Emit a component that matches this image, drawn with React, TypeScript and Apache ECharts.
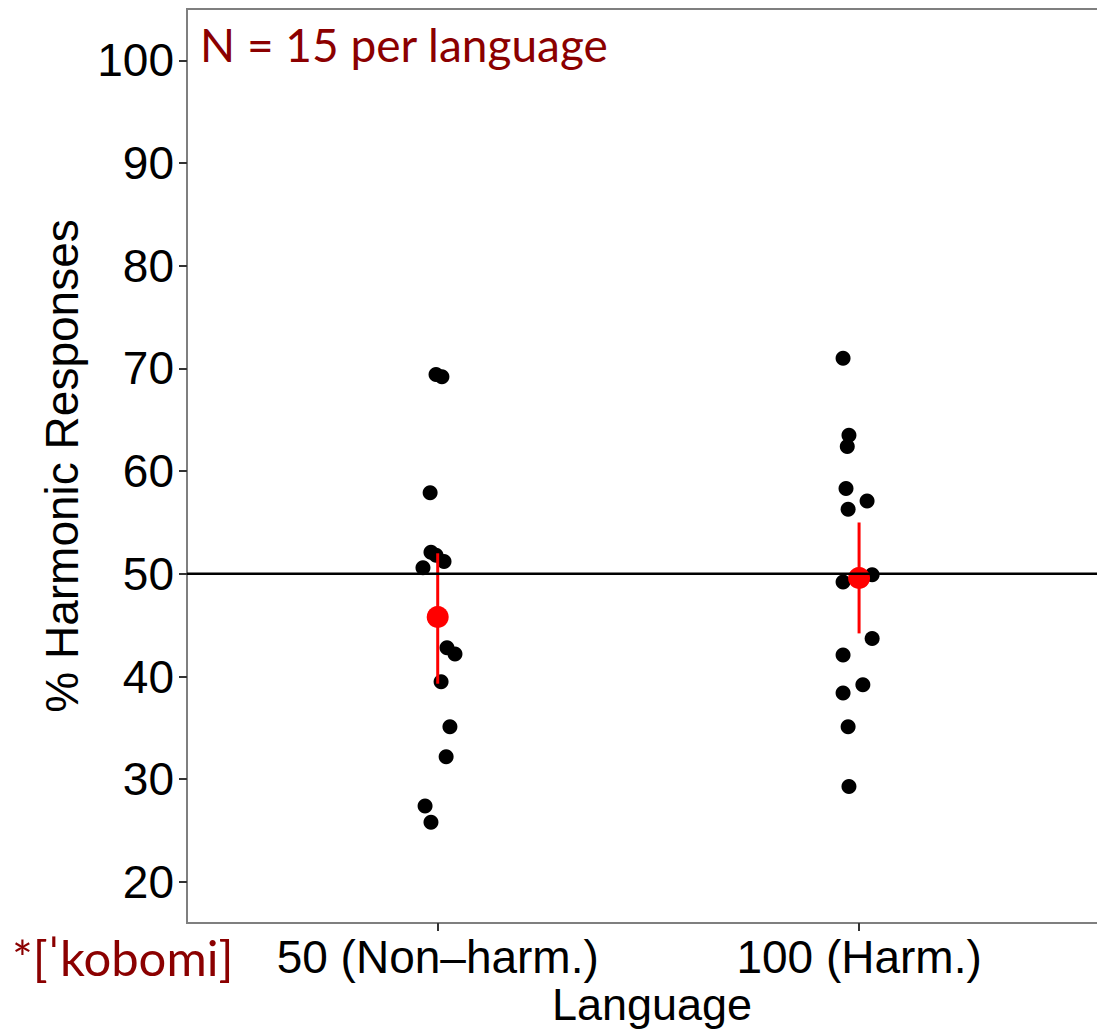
import React, { useEffect, useRef } from "react";
import * as echarts from "echarts";

const categories = ["50 (Non–harm.)", "100 (Harm.)"];
const categoryPos = [1, 2];
const yTicks = [20, 30, 40, 50, 60, 70, 80, 90, 100];

// Non-harmonic language: jittered x and % harmonic responses
const nonHarmX = [0.996, 1.01, 0.982, 0.984, 0.996, 1.015, 0.965, 1.022, 1.041, 1.008, 1.029, 1.02, 0.97, 0.984, 1.0];
const nonHarmY = [69.4, 69.2, 57.9, 52.1, 51.8, 51.2, 50.6, 42.8, 42.2, 39.5, 35.1, 32.2, 27.4, 25.8, 45.8];

// Harmonic language
const harmX = [1.962, 1.976, 1.972, 1.969, 2.019, 1.974, 2.031, 1.962, 2.031, 1.962, 2.009, 1.962, 1.974, 1.976, 2.0];
const harmY = [71.0, 63.5, 62.4, 58.3, 57.1, 56.3, 49.9, 49.2, 43.7, 42.1, 39.2, 38.4, 35.1, 29.3, 49.6];

// Means with confidence intervals
const means = [45.8, 49.6];
const lower = [39.3, 44.2];
const upper = [52.0, 55.0];

const refLine = 50;

const SANS = "'Liberation Sans', Arial, Helvetica, sans-serif";
const ANNOT = "Lato, 'Noto Sans', sans-serif";
const DARKRED = "#8B0000";

export default function App() {
  const ref = useRef<HTMLDivElement>(null);
  useEffect(() => {
    if (!ref.current) return;
    const chart = echarts.init(ref.current, null, { renderer: "svg" });
    const pts = (xs: number[], ys: number[]) => xs.map((x, i) => [x, ys[i]]);
    chart.setOption({
      animation: false,
      backgroundColor: "#ffffff",
      grid: {
        left: 187,
        top: 9,
        right: -17,
        bottom: 109,
        containLabel: false,
        outerBoundsMode: "none",
        show: true,
        borderColor: "#7f7f7f",
        borderWidth: 2,
        backgroundColor: "transparent",
      },
      xAxis: {
        type: "value",
        min: 0.405,
        max: 2.605,
        splitLine: { show: false },
        axisLine: { show: false },
        axisTick: {
          show: true,
          length: 8,
          customValues: categoryPos,
          lineStyle: { color: "#333333", width: 2 },
        },
        axisLabel: {
          customValues: categoryPos,
          formatter: (v: number) => categories[categoryPos.indexOf(v)] ?? "",
          fontFamily: SANS,
          fontSize: 46,
          color: "#000000",
          margin: 11,
          hideOverlap: false,
        },
      },
      yAxis: {
        type: "value",
        min: 16,
        max: 105,
        splitLine: { show: false },
        axisLine: { show: false },
        axisTick: {
          show: true,
          length: 8,
          customValues: yTicks,
          lineStyle: { color: "#333333", width: 2 },
        },
        axisLabel: {
          customValues: yTicks,
          fontFamily: SANS,
          fontSize: 46,
          color: "#000000",
          margin: 13,
        },
      },
      series: [
        {
          type: "scatter",
          data: pts(nonHarmX, nonHarmY).concat(pts(harmX, harmY)),
          symbolSize: 15,
          itemStyle: { color: "#000000", opacity: 1 },
          z: 2,
        },
        {
          type: "custom",
          data: categoryPos.map((c, i) => [c, lower[i], upper[i]]),
          renderItem: (params: any, api: any) => {
            const p1 = api.coord([api.value(0), api.value(1)]);
            const p2 = api.coord([api.value(0), api.value(2)]);
            return {
              type: "line",
              shape: { x1: p1[0], y1: p1[1], x2: p2[0], y2: p2[1] },
              style: { stroke: "#ff0000", lineWidth: 3 },
            };
          },
          z: 3,
        },
        {
          type: "scatter",
          data: categoryPos.map((c, i) => [c, means[i]]),
          symbolSize: 22,
          itemStyle: { color: "#ff0000", opacity: 1 },
          z: 4,
        },
        {
          type: "line",
          data: [
            [0.405, refLine],
            [2.605, refLine],
          ],
          symbol: "none",
          lineStyle: { color: "#000000", width: 2.5 },
          z: 5,
        },
      ],
      graphic: [
        {
          type: "text",
          x: 200,
          y: 44,
          style: {
            text: "N = 15 per language",
            fontFamily: ANNOT,
            fontSize: 46,
            fill: DARKRED,
            align: "left",
            verticalAlign: "middle",
          },
        },
        {
          type: "text",
          x: 12,
          y: 957,
          style: {
            text: "*[ˈkobomi]",
            fontFamily: ANNOT,
            fontSize: 49,
            fill: DARKRED,
            align: "left",
            verticalAlign: "middle",
          },
        },
        {
          type: "text",
          x: 652,
          y: 1004,
          style: {
            text: "Language",
            fontFamily: SANS,
            fontSize: 45,
            fill: "#000000",
            align: "center",
            verticalAlign: "middle",
          },
        },
        {
          type: "text",
          x: 62,
          y: 466,
          rotation: Math.PI / 2,
          style: {
            text: "% Harmonic Responses",
            fontFamily: SANS,
            fontSize: 46,
            fill: "#000000",
            align: "center",
            verticalAlign: "middle",
          },
        },
      ],
    });
    return () => chart.dispose();
  }, []);
  return (
    <div
      ref={ref}
      style={{ position: "absolute", left: 0, top: 0, width: 1097, height: 1032 }}
    />
  );
}
